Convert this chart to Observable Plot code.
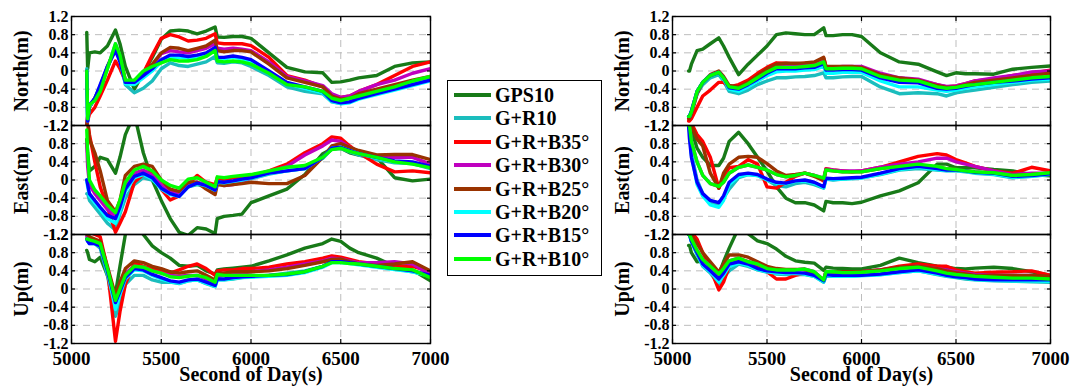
<!DOCTYPE html>
<html><head><meta charset="utf-8">
<script src="https://cdn.jsdelivr.net/npm/d3@7"></script>
<script src="https://cdn.jsdelivr.net/npm/@observablehq/plot@0.6"></script>
<style>
body{margin:0;background:#fff;}
#wrap{position:relative;width:1084px;height:391px;overflow:hidden;font-family:"Liberation Serif","Times New Roman",serif;font-weight:bold;background:#fff;}
#left,#right{position:absolute;top:0;}
#left{left:0}
#right{left:600px}
#legend{position:absolute;left:447px;top:80px;width:155px;height:196px;border:1px solid #000;background:#fff;box-sizing:border-box;z-index:5;}
.row{position:absolute;left:0;height:24px;line-height:24px;white-space:nowrap;font-size:20px;color:#000;}
.sw{position:absolute;left:6px;top:10px;width:37px;height:4px;}
.lt{position:absolute;left:47px;top:0;}
.ylab{position:absolute;width:120px;height:24px;line-height:24px;text-align:center;font-size:20px;color:#000;transform:translate(-50%,-50%) rotate(-90deg);white-space:nowrap;}
</style></head>
<body><div id="wrap"><div id="left"></div><div id="right"></div><div id="legend"></div></div>
<script>
const T = [5085, 5090, 5100, 5130, 5160, 5200, 5245, 5270, 5300, 5350, 5400, 5450, 5500, 5550, 5600, 5650, 5700, 5750, 5800, 5812, 5850, 5900, 5950, 6000, 6100, 6200, 6300, 6400, 6450, 6500, 6550, 6600, 6700, 6800, 6900, 7000];
const series = ["GPS10", "G+R10", "G+R+B35°", "G+R+B30°", "G+R+B25°", "G+R+B20°", "G+R+B15°", "G+R+B10°"];
const colors = ["#187a18", "#1bbdbd", "#ff0000", "#bf00bf", "#993300", "#00ffff", "#0000ff", "#00ff00"];
const components = ["North", "East", "Up"];
const compLabels = ["North(m)", "East(m)", "Up(m)"];
const yTicks = [-1.2, -0.8, -0.4, 0, 0.4, 0.8, 1.2];
const xTicks = [5000, 5500, 6000, 6500, 7000];
const xGrid = [5500, 6000, 6500];
const xLabel = "Second of Day(s)";

// Left column, North
const L_N_GPS10 = [0.85, 0.05, 0.40, 0.42, 0.40, 0.55, 0.90, 0.60, 0.10, -0.40, -0.05, 0.30, 0.70, 0.88, 0.90, 0.88, 0.82, 0.88, 0.97, 0.75, 0.74, 0.76, 0.76, 0.72, 0.40, 0.08, -0.02, -0.04, -0.25, -0.24, -0.20, -0.15, -0.10, 0.10, 0.18, 0.20];
const L_N_GR10 = [0.05, -1.10, -0.80, -0.60, -0.40, 0.05, 0.60, 0.30, -0.30, -0.48, -0.38, -0.22, 0.05, 0.18, 0.12, 0.10, 0.15, 0.20, 0.32, 0.18, 0.17, 0.20, 0.18, 0.10, -0.10, -0.35, -0.45, -0.50, -0.68, -0.72, -0.68, -0.60, -0.50, -0.40, -0.28, -0.15];
const L_N_B35 = [-1.25, -1.10, -0.95, -0.80, -0.55, -0.20, 0.22, 0.05, -0.22, -0.28, -0.05, 0.35, 0.72, 0.80, 0.75, 0.66, 0.68, 0.72, 0.82, 0.62, 0.60, 0.60, 0.60, 0.56, 0.30, -0.10, -0.20, -0.35, -0.55, -0.58, -0.55, -0.45, -0.30, -0.10, 0.10, 0.20];
const L_N_B30 = [-1.20, -1.00, -0.80, -0.60, -0.35, 0.08, 0.48, 0.28, -0.22, -0.25, -0.05, 0.12, 0.38, 0.45, 0.42, 0.40, 0.45, 0.50, 0.60, 0.50, 0.48, 0.50, 0.48, 0.45, 0.20, -0.12, -0.22, -0.32, -0.50, -0.58, -0.55, -0.45, -0.30, -0.20, -0.05, 0.05];
const L_N_B25 = [-1.20, -1.00, -0.80, -0.60, -0.35, 0.10, 0.50, 0.30, -0.20, -0.25, -0.05, 0.15, 0.40, 0.52, 0.50, 0.45, 0.50, 0.55, 0.68, 0.45, 0.42, 0.45, 0.45, 0.42, 0.15, -0.15, -0.25, -0.35, -0.55, -0.62, -0.60, -0.50, -0.40, -0.30, -0.20, -0.12];
const L_N_B20 = [0.00, -1.10, -0.78, -0.62, -0.32, 0.08, 0.50, 0.22, -0.28, -0.30, -0.15, 0.00, 0.20, 0.30, 0.30, 0.28, 0.30, 0.36, 0.48, 0.28, 0.27, 0.30, 0.27, 0.22, -0.02, -0.28, -0.38, -0.48, -0.67, -0.72, -0.70, -0.62, -0.52, -0.42, -0.32, -0.22];
const L_N_B15 = [0.00, -1.10, -0.75, -0.60, -0.30, 0.10, 0.45, 0.20, -0.25, -0.25, -0.10, 0.05, 0.25, 0.35, 0.35, 0.32, 0.35, 0.40, 0.52, 0.30, 0.30, 0.33, 0.30, 0.25, 0.00, -0.25, -0.35, -0.45, -0.65, -0.70, -0.68, -0.60, -0.50, -0.40, -0.30, -0.20];
const L_N_B10 = [0.00, -1.05, -0.75, -0.65, -0.45, 0.05, 0.60, 0.35, -0.20, -0.20, 0.00, 0.10, 0.18, 0.25, 0.22, 0.22, 0.25, 0.32, 0.45, 0.22, 0.20, 0.22, 0.20, 0.15, -0.05, -0.30, -0.35, -0.45, -0.60, -0.65, -0.60, -0.55, -0.45, -0.35, -0.22, -0.12];

// Left column, East
const L_E_GPS10 = [0.90, 0.60, 0.20, 0.30, 0.50, 0.45, 0.15, 0.50, 1.00, 1.45, 0.60, 0.00, -0.45, -0.85, -1.15, -1.22, -1.05, -1.08, -1.18, -0.85, -0.80, -0.78, -0.75, -0.50, -0.35, -0.20, 0.12, 0.58, 0.68, 0.70, 0.60, 0.55, 0.50, 0.05, -0.02, 0.02];
const L_E_GR10 = [-0.30, -0.30, -0.45, -0.60, -0.75, -0.95, -1.10, -0.75, -0.40, -0.10, 0.05, 0.00, -0.15, -0.30, -0.35, -0.15, -0.10, -0.15, -0.25, -0.05, -0.06, -0.03, 0.00, 0.03, 0.13, 0.20, 0.25, 0.48, 0.68, 0.70, 0.62, 0.55, 0.45, 0.38, 0.36, 0.25];
const L_E_B35 = [1.35, 1.30, 1.00, 0.40, -0.15, -0.60, -1.15, -0.95, -0.70, -0.05, 0.12, 0.18, -0.20, -0.44, -0.35, -0.10, 0.10, -0.05, -0.10, 0.05, 0.00, 0.05, 0.05, 0.08, 0.20, 0.35, 0.60, 0.80, 0.95, 0.92, 0.75, 0.60, 0.35, 0.18, 0.20, 0.16];
const L_E_B30 = [0.80, 0.30, -0.10, -0.30, -0.45, -0.65, -0.80, -0.55, -0.10, 0.15, 0.22, 0.10, -0.10, -0.25, -0.30, -0.10, -0.05, -0.10, -0.20, -0.03, -0.12, -0.10, -0.05, 0.05, 0.18, 0.30, 0.55, 0.75, 0.88, 0.85, 0.72, 0.62, 0.50, 0.50, 0.50, 0.35];
const L_E_B25 = [1.40, 1.30, 0.90, 0.60, 0.20, -0.45, -0.70, -0.45, 0.10, 0.30, 0.35, 0.30, 0.00, -0.20, -0.25, -0.05, -0.05, -0.20, -0.32, -0.10, -0.12, -0.10, -0.08, -0.05, -0.08, -0.08, 0.10, 0.50, 0.75, 0.80, 0.72, 0.65, 0.55, 0.56, 0.56, 0.45];
const L_E_B20 = [0.00, -0.15, -0.35, -0.50, -0.65, -0.85, -0.95, -0.68, -0.25, 0.05, 0.12, 0.02, -0.20, -0.32, -0.36, -0.15, -0.08, -0.13, -0.22, -0.05, -0.06, -0.03, 0.00, 0.04, 0.14, 0.20, 0.25, 0.50, 0.70, 0.72, 0.65, 0.58, 0.48, 0.40, 0.38, 0.28];
const L_E_B15 = [0.00, -0.10, -0.30, -0.45, -0.60, -0.78, -0.85, -0.60, -0.20, 0.08, 0.15, 0.05, -0.18, -0.30, -0.36, -0.15, -0.07, -0.12, -0.22, -0.04, -0.05, -0.02, 0.02, 0.05, 0.15, 0.20, 0.25, 0.50, 0.70, 0.72, 0.65, 0.58, 0.50, 0.42, 0.40, 0.30];
const L_E_B10 = [1.10, 0.60, 0.00, -0.22, -0.35, -0.55, -0.72, -0.44, -0.05, 0.22, 0.30, 0.20, 0.00, -0.12, -0.18, 0.02, 0.05, -0.05, -0.15, 0.07, 0.05, 0.08, 0.10, 0.12, 0.20, 0.28, 0.32, 0.50, 0.67, 0.70, 0.63, 0.58, 0.50, 0.40, 0.35, 0.27];

// Left column, Up
const L_U_GPS10 = [0.85, 0.80, 0.65, 0.60, 0.70, 0.30, -0.10, 0.50, 1.20, 1.60, 1.20, 0.95, 0.80, 0.68, 0.52, 0.50, 0.52, 0.40, 0.33, 0.42, 0.44, 0.46, 0.48, 0.50, 0.62, 0.75, 0.90, 1.00, 1.10, 1.05, 0.90, 0.80, 0.68, 0.50, 0.42, 0.18];
const L_U_GR10 = [1.20, 1.20, 1.15, 1.00, 0.90, 0.30, -0.60, -0.30, 0.10, 0.30, 0.30, 0.20, 0.15, 0.15, 0.12, 0.18, 0.20, 0.12, 0.05, 0.20, 0.20, 0.22, 0.25, 0.28, 0.30, 0.35, 0.40, 0.50, 0.60, 0.60, 0.58, 0.55, 0.50, 0.45, 0.38, 0.30];
const L_U_B35 = [1.30, 1.30, 1.25, 1.20, 1.15, 0.45, -1.15, -0.50, 0.10, 0.58, 0.50, 0.45, 0.40, 0.35, 0.42, 0.50, 0.55, 0.45, 0.30, 0.40, 0.42, 0.42, 0.45, 0.45, 0.48, 0.55, 0.60, 0.68, 0.73, 0.70, 0.65, 0.60, 0.55, 0.50, 0.50, 0.38];
const L_U_B30 = [1.15, 1.15, 1.10, 1.05, 1.00, 0.45, -0.20, 0.10, 0.35, 0.50, 0.48, 0.40, 0.35, 0.30, 0.28, 0.30, 0.30, 0.22, 0.12, 0.28, 0.30, 0.33, 0.35, 0.38, 0.42, 0.48, 0.55, 0.62, 0.68, 0.66, 0.62, 0.58, 0.58, 0.60, 0.55, 0.32];
const L_U_B25 = [1.20, 1.20, 1.15, 1.10, 1.05, 0.50, -0.15, 0.15, 0.45, 0.62, 0.58, 0.50, 0.45, 0.38, 0.35, 0.38, 0.40, 0.30, 0.20, 0.35, 0.35, 0.38, 0.38, 0.38, 0.40, 0.45, 0.52, 0.60, 0.65, 0.66, 0.60, 0.55, 0.52, 0.55, 0.60, 0.40];
const L_U_B20 = [1.10, 1.05, 1.00, 1.00, 0.95, 0.38, -0.45, -0.12, 0.22, 0.42, 0.40, 0.30, 0.22, 0.16, 0.13, 0.18, 0.20, 0.13, 0.06, 0.20, 0.20, 0.23, 0.25, 0.26, 0.28, 0.30, 0.36, 0.48, 0.58, 0.58, 0.56, 0.53, 0.48, 0.43, 0.38, 0.28];
const L_U_B15 = [1.10, 1.05, 1.00, 1.00, 0.95, 0.40, -0.30, -0.05, 0.25, 0.45, 0.42, 0.32, 0.25, 0.18, 0.15, 0.20, 0.22, 0.15, 0.08, 0.22, 0.22, 0.25, 0.27, 0.28, 0.30, 0.32, 0.38, 0.50, 0.60, 0.60, 0.58, 0.55, 0.50, 0.45, 0.40, 0.30];
const L_U_B10 = [1.10, 1.10, 1.08, 1.05, 1.00, 0.45, -0.25, 0.00, 0.30, 0.50, 0.48, 0.40, 0.35, 0.27, 0.25, 0.28, 0.30, 0.25, 0.15, 0.32, 0.30, 0.30, 0.30, 0.30, 0.30, 0.33, 0.38, 0.50, 0.58, 0.58, 0.56, 0.55, 0.50, 0.45, 0.42, 0.25];

// Right column, North
const R_N_GPS10 = [0.00, 0.00, 0.15, 0.45, 0.48, 0.60, 0.73, 0.55, 0.30, -0.08, 0.15, 0.35, 0.55, 0.80, 0.84, 0.82, 0.80, 0.80, 0.95, 0.78, 0.78, 0.80, 0.80, 0.76, 0.40, 0.20, 0.15, -0.02, -0.10, -0.04, -0.06, -0.06, -0.07, 0.04, 0.08, 0.11];
const R_N_GR10 = [-1.00, -1.00, -0.90, -0.50, -0.30, -0.15, -0.08, -0.22, -0.45, -0.50, -0.42, -0.30, -0.22, -0.15, -0.15, -0.13, -0.12, -0.10, -0.04, -0.15, -0.15, -0.13, -0.12, -0.12, -0.35, -0.50, -0.48, -0.50, -0.55, -0.48, -0.45, -0.42, -0.36, -0.30, -0.25, -0.22];
const R_N_B35 = [-1.10, -1.10, -1.05, -0.80, -0.55, -0.42, -0.25, -0.25, -0.35, -0.30, -0.20, -0.05, 0.08, 0.18, 0.17, 0.15, 0.17, 0.18, 0.28, 0.10, 0.08, 0.08, 0.08, 0.05, -0.10, -0.18, -0.20, -0.30, -0.35, -0.33, -0.28, -0.22, -0.18, -0.10, -0.05, 0.02];
const R_N_B30 = [-1.00, -1.00, -0.90, -0.45, -0.25, -0.10, -0.03, -0.15, -0.35, -0.38, -0.28, -0.15, -0.02, 0.10, 0.10, 0.10, 0.12, 0.14, 0.22, 0.08, 0.08, 0.10, 0.10, 0.10, -0.05, -0.15, -0.18, -0.30, -0.34, -0.33, -0.28, -0.22, -0.15, -0.10, -0.02, 0.00];
const R_N_B25 = [-1.05, -1.05, -0.95, -0.50, -0.25, -0.08, 0.00, -0.12, -0.32, -0.35, -0.25, -0.10, 0.05, 0.15, 0.17, 0.17, 0.18, 0.20, 0.30, 0.10, 0.10, 0.10, 0.10, 0.08, -0.08, -0.15, -0.20, -0.32, -0.36, -0.35, -0.30, -0.25, -0.20, -0.15, -0.10, -0.05];
const R_N_B20 = [-1.00, -1.00, -0.88, -0.45, -0.25, -0.10, -0.03, -0.18, -0.40, -0.45, -0.35, -0.22, -0.10, -0.02, 0.00, 0.00, 0.02, 0.03, 0.10, -0.05, -0.05, -0.03, -0.03, -0.03, -0.22, -0.35, -0.35, -0.42, -0.45, -0.42, -0.38, -0.35, -0.30, -0.25, -0.20, -0.18];
const R_N_B15 = [-1.00, -1.00, -0.88, -0.45, -0.25, -0.10, -0.03, -0.15, -0.37, -0.40, -0.30, -0.18, -0.05, 0.05, 0.05, 0.05, 0.07, 0.08, 0.16, 0.02, 0.02, 0.03, 0.03, 0.02, -0.15, -0.25, -0.26, -0.38, -0.40, -0.38, -0.34, -0.30, -0.25, -0.22, -0.18, -0.15];
const R_N_B10 = [-1.00, -1.00, -0.90, -0.45, -0.25, -0.10, -0.03, -0.15, -0.35, -0.38, -0.28, -0.15, -0.02, 0.08, 0.08, 0.08, 0.10, 0.12, 0.20, 0.05, 0.05, 0.06, 0.06, 0.05, -0.12, -0.20, -0.22, -0.35, -0.38, -0.36, -0.32, -0.30, -0.25, -0.20, -0.15, -0.12];

// Right column, East
const R_E_GPS10 = [1.30, 1.30, 1.10, 0.70, 0.50, 0.32, 0.32, 0.48, 0.85, 1.05, 0.80, 0.50, 0.20, -0.15, -0.40, -0.50, -0.50, -0.55, -0.68, -0.47, -0.50, -0.50, -0.52, -0.49, -0.35, -0.24, -0.06, 0.35, 0.35, 0.27, 0.27, 0.27, 0.23, 0.20, 0.12, 0.09];
const R_E_GR10 = [1.20, 1.20, 0.60, 0.00, -0.30, -0.48, -0.55, -0.40, -0.20, 0.05, 0.12, 0.10, 0.00, -0.12, -0.15, -0.08, -0.05, -0.10, -0.18, 0.02, 0.00, 0.02, 0.03, 0.05, 0.12, 0.22, 0.25, 0.22, 0.20, 0.20, 0.18, 0.15, 0.12, 0.05, 0.08, 0.12];
const R_E_B35 = [1.30, 1.30, 1.25, 1.00, 0.85, 0.50, -0.18, 0.05, 0.27, 0.30, 0.45, 0.35, -0.15, -0.18, -0.05, 0.08, 0.15, 0.10, -0.02, 0.25, 0.22, 0.20, 0.18, 0.20, 0.28, 0.40, 0.52, 0.58, 0.55, 0.45, 0.38, 0.30, 0.20, 0.15, 0.28, 0.20];
const R_E_B30 = [1.20, 1.20, 0.85, 0.40, 0.10, -0.08, -0.14, -0.05, 0.15, 0.28, 0.33, 0.28, 0.22, 0.12, 0.07, 0.10, 0.15, 0.10, 0.04, 0.24, 0.22, 0.20, 0.20, 0.20, 0.28, 0.35, 0.40, 0.48, 0.48, 0.40, 0.35, 0.30, 0.20, 0.12, 0.15, 0.15];
const R_E_B25 = [1.30, 1.30, 1.20, 0.90, 0.75, 0.15, -0.18, 0.15, 0.35, 0.50, 0.52, 0.50, 0.36, 0.20, 0.10, 0.12, 0.15, 0.08, 0.00, 0.22, 0.20, 0.18, 0.18, 0.18, 0.25, 0.30, 0.32, 0.28, 0.25, 0.23, 0.20, 0.18, 0.15, 0.10, 0.12, 0.15];
const R_E_B20 = [1.20, 1.10, 0.55, -0.10, -0.35, -0.55, -0.60, -0.45, -0.10, 0.08, 0.12, 0.10, 0.00, -0.07, -0.08, -0.03, -0.02, -0.07, -0.17, 0.02, 0.01, 0.02, 0.03, 0.04, 0.13, 0.23, 0.28, 0.23, 0.21, 0.21, 0.19, 0.16, 0.13, 0.06, 0.08, 0.13];
const R_E_B15 = [1.20, 0.90, 0.50, -0.05, -0.30, -0.45, -0.50, -0.35, -0.05, 0.12, 0.15, 0.12, 0.02, -0.05, -0.07, -0.02, 0.00, -0.05, -0.15, 0.04, 0.03, 0.04, 0.05, 0.06, 0.15, 0.25, 0.30, 0.25, 0.22, 0.22, 0.20, 0.17, 0.15, 0.08, 0.10, 0.14];
const R_E_B10 = [1.20, 1.20, 0.85, 0.40, 0.10, -0.08, -0.14, -0.05, 0.15, 0.28, 0.33, 0.28, 0.22, 0.12, 0.07, 0.10, 0.15, 0.10, 0.04, 0.22, 0.20, 0.18, 0.18, 0.18, 0.25, 0.30, 0.35, 0.30, 0.25, 0.23, 0.20, 0.18, 0.16, 0.10, 0.12, 0.16];

// Right column, Up
const R_U_GPS10 = [0.96, 0.96, 0.80, 0.60, 0.62, 0.55, 0.33, 0.60, 0.90, 1.35, 1.22, 1.06, 1.00, 0.88, 0.72, 0.62, 0.59, 0.57, 0.41, 0.48, 0.46, 0.45, 0.44, 0.44, 0.52, 0.68, 0.58, 0.50, 0.48, 0.45, 0.44, 0.46, 0.48, 0.45, 0.38, 0.30];
const R_U_GR10 = [1.20, 1.20, 1.05, 0.75, 0.50, 0.35, 0.10, 0.25, 0.40, 0.55, 0.50, 0.42, 0.37, 0.33, 0.32, 0.32, 0.32, 0.28, 0.15, 0.28, 0.28, 0.28, 0.28, 0.30, 0.32, 0.36, 0.40, 0.32, 0.28, 0.25, 0.22, 0.20, 0.18, 0.17, 0.16, 0.15];
const R_U_B35 = [1.30, 1.30, 1.25, 1.10, 0.80, 0.45, -0.02, 0.15, 0.50, 0.65, 0.60, 0.50, 0.38, 0.22, 0.22, 0.30, 0.35, 0.30, 0.20, 0.38, 0.38, 0.38, 0.38, 0.38, 0.42, 0.50, 0.55, 0.50, 0.50, 0.42, 0.38, 0.35, 0.37, 0.38, 0.40, 0.30];
const R_U_B30 = [1.20, 1.20, 1.10, 0.85, 0.65, 0.50, 0.30, 0.45, 0.62, 0.68, 0.60, 0.55, 0.45, 0.42, 0.42, 0.42, 0.44, 0.38, 0.20, 0.38, 0.38, 0.37, 0.37, 0.38, 0.42, 0.47, 0.50, 0.45, 0.42, 0.38, 0.35, 0.32, 0.30, 0.30, 0.30, 0.25];
const R_U_B25 = [1.30, 1.30, 1.20, 1.00, 0.80, 0.60, 0.37, 0.55, 0.75, 0.75, 0.70, 0.60, 0.50, 0.45, 0.43, 0.43, 0.43, 0.35, 0.20, 0.38, 0.38, 0.38, 0.38, 0.38, 0.42, 0.48, 0.50, 0.45, 0.40, 0.36, 0.33, 0.30, 0.30, 0.30, 0.30, 0.28];
const R_U_B20 = [1.20, 1.20, 1.05, 0.78, 0.52, 0.38, 0.15, 0.30, 0.50, 0.57, 0.52, 0.43, 0.38, 0.35, 0.34, 0.34, 0.33, 0.28, 0.16, 0.30, 0.28, 0.28, 0.28, 0.29, 0.31, 0.36, 0.40, 0.33, 0.29, 0.26, 0.24, 0.21, 0.19, 0.18, 0.18, 0.17];
const R_U_B15 = [1.20, 1.20, 1.05, 0.80, 0.55, 0.40, 0.22, 0.35, 0.55, 0.60, 0.55, 0.45, 0.40, 0.38, 0.36, 0.36, 0.35, 0.30, 0.18, 0.32, 0.30, 0.30, 0.30, 0.30, 0.33, 0.38, 0.42, 0.35, 0.30, 0.27, 0.25, 0.22, 0.20, 0.20, 0.20, 0.20];
const R_U_B10 = [1.20, 1.20, 1.10, 0.85, 0.65, 0.50, 0.33, 0.45, 0.62, 0.68, 0.60, 0.55, 0.45, 0.42, 0.42, 0.42, 0.44, 0.38, 0.20, 0.38, 0.38, 0.36, 0.36, 0.37, 0.40, 0.45, 0.48, 0.40, 0.35, 0.32, 0.30, 0.28, 0.26, 0.24, 0.24, 0.22];

const leftCols = {
  North: [L_N_GPS10, L_N_GR10, L_N_B35, L_N_B30, L_N_B25, L_N_B20, L_N_B15, L_N_B10],
  East: [L_E_GPS10, L_E_GR10, L_E_B35, L_E_B30, L_E_B25, L_E_B20, L_E_B15, L_E_B10],
  Up: [L_U_GPS10, L_U_GR10, L_U_B35, L_U_B30, L_U_B25, L_U_B20, L_U_B15, L_U_B10]
};
const rightCols = {
  North: [R_N_GPS10, R_N_GR10, R_N_B35, R_N_B30, R_N_B25, R_N_B20, R_N_B15, R_N_B10],
  East: [R_E_GPS10, R_E_GR10, R_E_B35, R_E_B30, R_E_B25, R_E_B20, R_E_B15, R_E_B10],
  Up: [R_U_GPS10, R_U_GR10, R_U_B35, R_U_B30, R_U_B25, R_U_B20, R_U_B15, R_U_B10]
};

function toRows(cols) {
  const rows = [];
  for (const c of components) {
    cols[c].forEach((arr, si) => {
      arr.forEach((v, i) => rows.push({c, s: series[si], t: T[i], v}));
    });
  }
  return rows;
}

const FONT = "'Liberation Serif', 'Times New Roman', serif";
const fmtY = d => d === 0 ? "0" : d.toFixed(1);
const fmtX = d => String(d);
const MT = 16, MB = 48, H = 391;

function makePlot(host, rows, width, marginLeft, marginRight) {
  const chart = Plot.plot({
    width, height: H,
    marginTop: MT, marginBottom: MB, marginLeft, marginRight,
    x: {domain: [5000, 7000]},
    y: {domain: [-1.2, 1.2]},
    fy: {domain: components, padding: 0, axis: null},
    color: {domain: series, range: colors},
    style: {fontFamily: FONT, fontWeight: "bold", background: "transparent", color: "#000", overflow: "visible"},
    marks: [
      Plot.gridY(yTicks.slice(1, -1), {stroke: "#bdbdbd", strokeOpacity: 1, strokeDasharray: "7,5"}),
      Plot.gridX(xGrid, {stroke: "#bdbdbd", strokeOpacity: 1, strokeDasharray: "7,5"}),
      Plot.line(rows, {x: "t", y: "v", z: "s", stroke: "s", fy: "c", strokeWidth: 3.4, strokeLinejoin: "round", clip: true}),
      Plot.frame({stroke: "#000", strokeWidth: 1.4}),
      Plot.axisY(yTicks, {tickSize: 0, tickPadding: 3, tickFormat: fmtY, fontSize: 16, fontWeight: "bold", fontFamily: FONT, label: null}),
      Plot.axisY(yTicks, {anchor: "left", tickSize: -4, fill: "none", label: null, strokeWidth: 1.2}),
      Plot.axisY(yTicks, {anchor: "right", tickSize: -4, fill: "none", label: null, strokeWidth: 1.2, facetAnchor: null}),
      Plot.axisX(xTicks, {tickSize: 0, tickPadding: 8, tickFormat: fmtX, fontSize: 19, fontWeight: "bold", fontFamily: FONT, label: null}),
      Plot.axisX(xTicks, {anchor: "bottom", tickSize: -4, fill: "none", label: null, facetAnchor: null, strokeWidth: 1.2}),
      Plot.axisX(xTicks, {anchor: "top", tickSize: -4, fill: "none", label: null, facetAnchor: null, strokeWidth: 1.2}),
      Plot.text([xLabel], {fy: ["Up"], text: d => d, frameAnchor: "bottom", dy: 37, fontSize: 20, fontWeight: "bold", fontFamily: FONT})
    ]
  });
  host.append(chart);
  // y-axis titles for each row
  const panelH = (H - MT - MB) / components.length;
  compLabels.forEach((lab, i) => {
    const d = document.createElement("div");
    d.className = "ylab";
    d.textContent = lab;
    d.style.left = (marginLeft - 50) + "px";
    d.style.top = (MT + panelH * (i + 0.5)) + "px";
    host.append(d);
  });
}

makePlot(document.getElementById("left"), toRows(leftCols), 470, 71, 40);
makePlot(document.getElementById("right"), toRows(rightCols), 484, 72, 34);

const legend = document.getElementById("legend");
series.forEach((s, i) => {
  const row = document.createElement("div");
  row.className = "row";
  row.style.top = (2 + i * 23.4) + "px";
  row.style.width = "150px";
  const sw = document.createElement("div");
  sw.className = "sw";
  sw.style.background = colors[i];
  const lt = document.createElement("div");
  lt.className = "lt";
  lt.textContent = s;
  row.append(sw, lt);
  legend.append(row);
});
</script>
</body></html>
